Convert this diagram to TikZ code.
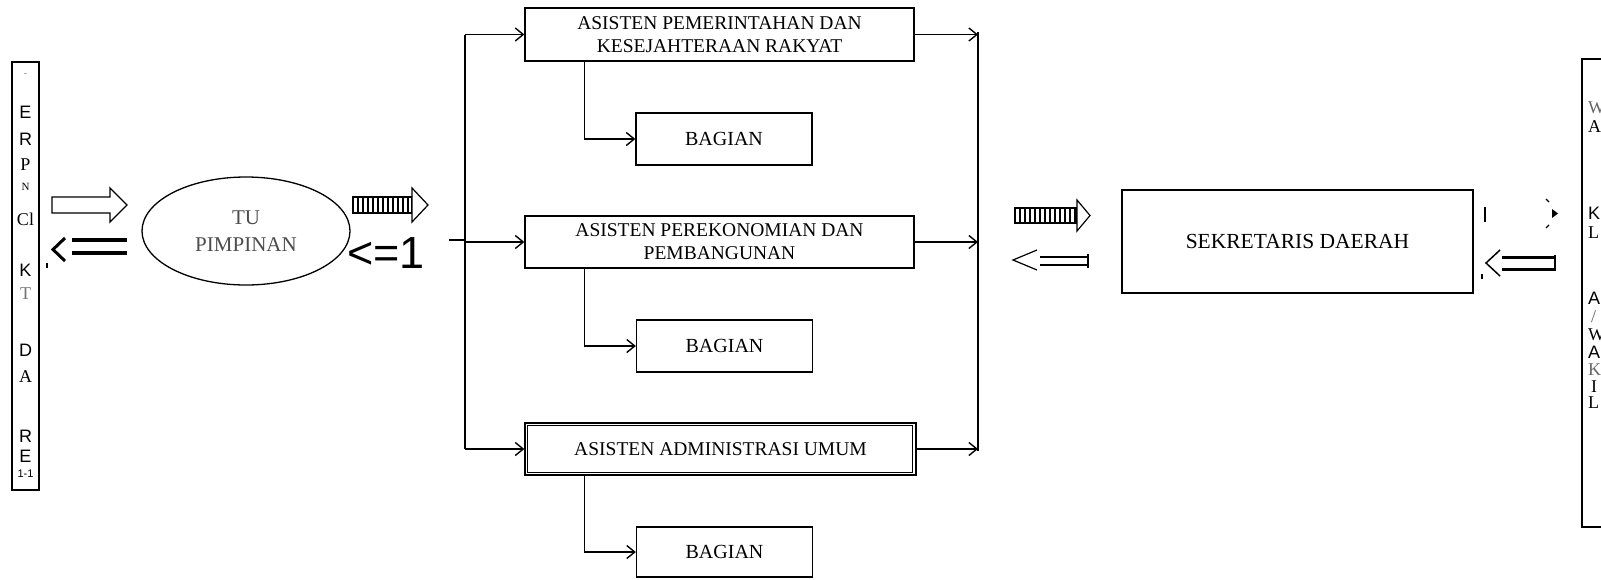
\documentclass[tikz,border=0pt]{standalone}
\usepackage{fontspec}
\setmainfont{Liberation Serif}
\newfontfamily\sansf{Liberation Sans}
\usetikzlibrary{shapes.geometric,arrows.meta}
\begin{document}
\begin{tikzpicture}[x=1pt,y=-1pt,
  box/.style={draw, line width=1.3pt, inner sep=0pt, align=center, font=\fontsize{19.5}{23}\selectfont},
  bag/.style={box, minimum width=176pt, minimum height=52pt, font=\fontsize{20}{24}\selectfont},
  conn/.style={line width=1.4pt, -{Straight Barb[length=8pt,width=13pt]}},
  lnk/.style={line width=1.4pt},
  sl/.style={inner sep=0pt, font=\sansf\fontsize{18}{18}\selectfont},
  rl/.style={inner sep=0pt, font=\fontsize{18}{18}\selectfont},
  rs/.style={inner sep=0pt, anchor=west, font=\fontsize{18}{18}\selectfont},
  rss/.style={inner sep=0pt, anchor=west, font=\sansf\fontsize{18}{18}\selectfont},
  stripe/.style={line width=1.2pt, fill=white}
]
\useasboundingbox (0,0) rectangle (1601,579);
\clip (0,0) rectangle (1601,579);

% asisten boxes
\node[box, minimum width=389pt, minimum height=53pt] (a1) at (719.5,34.5) {ASISTEN PEMERINTAHAN DAN\\KESEJAHTERAAN RAKYAT};
\node[box, minimum width=389pt, minimum height=52pt] (a2) at (719.5,242) {ASISTEN PEREKONOMIAN DAN\\PEMBANGUNAN};
\node[box, minimum width=391pt, minimum height=52pt] (a3) at (720.5,449) {ASISTEN ADMINISTRASI UMUM};
\draw[line width=1.1pt] ([xshift=3pt,yshift=-3pt]a3.north west) rectangle ([xshift=-4pt,yshift=3pt]a3.south east);

% bagian boxes
\node[bag] (b1) at (724,139) {BAGIAN};
\node[bag] (b2) at (724.5,346) {BAGIAN};
\node[bag, minimum height=50pt] (b3) at (724.5,552) {BAGIAN};

\draw[conn] ([xshift=60pt]a1.south west) |- (b1.west);
\draw[conn] ([xshift=60pt]a2.south west) |- (b2.west);
\draw[conn] ([xshift=60pt]a3.south west) |- (b3.west);

% brackets
\coordinate (lb) at (465,240);
\coordinate (rb) at (978,240);
\draw[lnk] (a1.west -| lb) -- (a3.west -| lb);
\draw[lnk] (lb) -- ++(-16,0);
\draw[conn] (a1.west -| lb) -- (a1.west);
\draw[conn] (a2.west -| lb) -- (a2.west);
\draw[conn] (a3.west -| lb) -- (a3.west);
\draw[lnk] ([yshift=3pt]a1.east -| rb) -- ([yshift=-2pt]a3.east -| rb);
\draw[conn] (a1.east) -- (a1.east -| rb);
\draw[conn] (a2.east) -- (a2.east -| rb);
\draw[conn] (a3.east) -- (a3.east -| rb);

% TU pimpinan
\node[ellipse, draw, line width=1.3pt, minimum width=208pt, minimum height=108pt, inner sep=0pt, align=center, text=black!70, font=\fontsize{21}{27}\selectfont] (tu) at (246,231) {TU\\PIMPINAN};

% sekretaris daerah
\node[box, minimum width=351pt, minimum height=103pt, font=\fontsize{21.5}{24}\selectfont] (sd) at (1297.5,241.5) {SEKRETARIS DAERAH};

% left vertical box
\node[draw, line width=1.2pt, minimum width=27pt, minimum height=428pt, inner sep=0pt] (lbox) at (25.5,276) {};
\node[rl, text=black!50, font=\fontsize{10}{10}\selectfont] (l0) at (25.5,75) {-};
\node[sl] (l1) at (25.5,112) {E};
\node[sl] (l2) at (25.5,139) {R};
\node[rl] (l3) at (25.5,165) {P};
\node[rl, font=\fontsize{11}{11}\selectfont] (l4) at (25.5,187) {N};
\node[rl] (l5) at (25.5,219) {Cl};
\node[sl] (l6) at (25.5,270) {K};
\node[rl, text=black!55] (l7) at (25.5,294) {T};
\node[sl] (l8) at (25.5,350) {D};
\node[rl] (l9) at (25.5,377) {A};
\node[sl] (l10) at (25.5,436) {R};
\node[sl] (l11) at (25.5,456) {E};
\node[sl, font=\sansf\fontsize{11}{11}\selectfont] (l12) at (25.5,474) {1-1};

% left arrows
\draw[line width=1.3pt, fill=white] (52,197) -- (110,197) -- (110,188) -- (127,205) -- (110,222) -- (110,213) -- (52,213) -- cycle;
\fill (46,263) rectangle (48,268);
\draw[line width=3pt] (65,238) -- (53,249.5) -- (65,261);
\draw[line width=4pt] (72,240) -- (127,240);
\draw[line width=4pt] (72,253) -- (127,253);

% striped arrow after TU
\draw[stripe] (353,197) rectangle (412,213);
\foreach \x in {358,363,...,408} \draw[line width=1.8pt] (\x,197) -- (\x,213);
\draw[stripe] (412,188) -- (428,205) -- (412,222) -- cycle;
\node[inner sep=0pt, font=\sansf\fontsize{45}{45}\selectfont] (lt1) at (386,253) {<=1};

% striped arrow before sekretaris
\draw[stripe] (1015,208) rectangle (1077,223);
\foreach \x in {1020,1025,...,1075} \draw[line width=1.8pt] (\x,208) -- (\x,223);
\draw[stripe] (1077,200) -- (1090,215.5) -- (1077,231) -- cycle;
\draw[line width=1.2pt] (1037,250) -- (1013,260) -- (1037,270);
\draw[line width=1.2pt] (1040,257) -- (1088,257);
\draw[line width=1.2pt] (1040,265) -- (1088,265);
\draw[line width=1.2pt] (1088,254) -- (1088,268);

% right arrows
\draw[line width=1.6pt] (1485,207) -- (1485,222);
\fill (1552,209) -- (1558,213.5) -- (1552,218) -- cycle;
\draw[line width=1.2pt] (1546,199) -- (1549,202);
\draw[line width=1.2pt] (1546,228) -- (1549,225);
\fill (1481,274) rectangle (1483,279);
\draw[line width=1.5pt] (1500,250) -- (1486,263) -- (1500,276);
\draw[line width=3pt] (1502,257) -- (1555,257);
\draw[line width=3pt] (1502,269) -- (1555,269);
\draw[line width=1.3pt] (1555,255) -- (1555,271);

% right box (cut by edge)
\draw[line width=1.2pt] (1610,59) -| (1582,527) -- (1610,527);
\node[rs, text=black!60] (r1) at (1588,108) {W};
\node[rs] (r2) at (1588,127) {A};
\node[rss] (r3) at (1588,213) {K};
\node[rs] (r4) at (1588,233) {L};
\node[rss] (r5) at (1588,298) {A};
\node[rs, text=black!60] (r6) at (1591,317) {/};
\node[rs] (r7) at (1588,335) {W};
\node[rss] (r8) at (1588,352) {A};
\node[rs, text=black!60] (r9) at (1588,370) {K};
\node[rs] (r10) at (1591,387) {I};
\node[rs] (r11) at (1588,403) {L};
\end{tikzpicture}
\end{document}
